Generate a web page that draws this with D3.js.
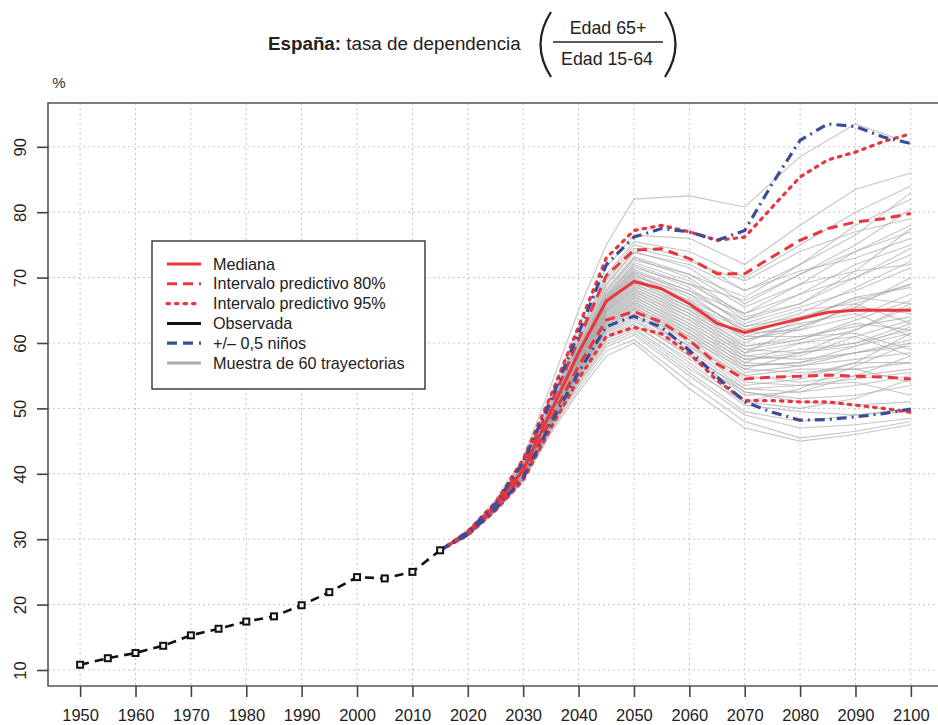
<!DOCTYPE html>
<html>
<head>
<meta charset="utf-8">
<script src="https://cdn.jsdelivr.net/npm/d3@7"></script>
<style>
  body { margin: 0; background: #fff; }
  svg { display: block; font-family: "Liberation Sans", Arial, sans-serif; }
</style>
</head>
<body>
<div id="chart"></div>
<script>
// Observed values (1950-2015)
const obsYears = [1950, 1955, 1960, 1965, 1970, 1975, 1980, 1985, 1990, 1995, 2000, 2005, 2010, 2015];
const obsValues = [10.8, 11.8, 12.6, 13.7, 15.3, 16.3, 17.4, 18.2, 19.9, 21.9, 24.2, 24.0, 25.0, 28.3];

// Projections (2015-2100)
const projYears = [2015, 2020, 2025, 2030, 2035, 2040, 2045, 2050, 2055, 2060, 2065, 2070, 2075, 2080, 2085, 2090, 2095, 2100];
const median     = [28.3, 30.9, 35.0, 40.6, 49.5, 58.5, 66.4, 69.4, 68.3, 66.0, 63.0, 61.6, 62.7, 63.7, 64.7, 65.0, 65.0, 65.0];
const pi80Upper  = [28.3, 31.0, 35.3, 41.4, 50.7, 60.5, 70.3, 74.2, 74.4, 72.9, 70.6, 70.6, 73.2, 75.7, 77.5, 78.5, 79.0, 79.8];
const pi80Lower  = [28.3, 30.8, 34.7, 39.8, 48.3, 56.5, 63.5, 64.8, 63.2, 60.4, 56.8, 54.5, 54.8, 54.9, 55.1, 54.9, 54.8, 54.5];
const pi95Upper  = [28.3, 31.2, 35.6, 42.2, 52.0, 62.5, 73.0, 77.2, 78.0, 77.0, 75.7, 76.2, 80.8, 85.4, 88.0, 89.2, 90.8, 92.0];
const pi95Lower  = [28.3, 30.6, 34.4, 39.0, 47.0, 54.5, 61.0, 62.4, 61.4, 58.4, 54.3, 51.2, 51.2, 51.0, 51.0, 50.5, 50.0, 49.4];
const halfUpper  = [28.3, 31.1, 35.4, 41.8, 51.3, 61.5, 72.0, 76.2, 77.5, 77.0, 75.7, 77.2, 84.4, 91.0, 93.5, 93.1, 91.5, 90.5];
const halfLower  = [28.3, 30.7, 34.6, 39.4, 47.7, 55.5, 62.5, 64.1, 62.4, 58.9, 54.8, 51.0, 49.4, 48.2, 48.3, 48.7, 49.2, 49.9];

// Muestra de 60 trayectorias
const sampleYears = [2015, 2020, 2025, 2030, 2035, 2040, 2045, 2050, 2060, 2070, 2080, 2090, 2100];
const sampleTrajectories = [
  [28.3, 31.4, 36.0, 42.5, 53.5, 65.0, 75.0, 82.0, 82.5, 80.8, 88.5, 93.5, 90.5],
  [28.3, 31.2, 35.6, 42.0, 52.0, 62.5, 71.5, 76.5, 76.0, 72.0, 78.0, 83.5, 86.0],
  [28.3, 31.2, 35.5, 41.8, 51.5, 61.5, 70.5, 75.5, 74.0, 70.0, 75.0, 80.0, 84.0],
  [28.3, 31.1, 35.4, 41.5, 51.0, 61.0, 70.0, 75.0, 73.0, 68.0, 72.0, 78.0, 82.0],
  [28.3, 31.1, 35.4, 41.4, 50.8, 60.5, 69.5, 74.5, 72.5, 69.5, 74.0, 77.0, 79.0],
  [28.3, 31.1, 35.3, 41.3, 50.5, 60.2, 69.0, 74.0, 71.5, 66.0, 70.5, 75.0, 80.5],
  [28.3, 31.1, 35.3, 41.2, 50.3, 60.0, 68.8, 73.8, 72.0, 68.0, 71.0, 73.0, 76.0],
  [28.3, 31.0, 35.2, 41.1, 50.1, 59.7, 68.3, 73.2, 70.5, 65.5, 69.0, 74.0, 78.0],
  [28.3, 31.0, 35.2, 41.0, 50.0, 59.5, 68.0, 73.0, 70.0, 64.0, 66.0, 70.0, 73.5],
  [28.3, 31.0, 35.2, 41.0, 49.9, 59.3, 67.8, 72.7, 70.5, 67.0, 72.0, 76.5, 83.0],
  [28.3, 31.0, 35.1, 40.9, 49.8, 59.1, 67.5, 72.3, 69.5, 63.5, 67.5, 72.0, 75.0],
  [28.3, 31.0, 35.1, 40.9, 49.7, 59.0, 67.3, 72.0, 69.0, 64.5, 69.0, 71.0, 72.0],
  [28.3, 31.0, 35.1, 40.8, 49.7, 58.9, 67.1, 71.8, 68.5, 62.5, 64.0, 66.5, 69.0],
  [28.3, 31.0, 35.1, 40.8, 49.6, 58.8, 67.0, 71.5, 69.0, 66.5, 70.5, 74.0, 77.0],
  [28.3, 31.0, 35.0, 40.8, 49.6, 58.7, 66.8, 71.2, 68.0, 63.0, 65.5, 68.0, 71.5],
  [28.3, 30.9, 35.0, 40.7, 49.5, 58.6, 66.7, 71.0, 67.5, 61.5, 62.0, 64.0, 67.5],
  [28.3, 30.9, 35.0, 40.7, 49.5, 58.5, 66.6, 70.8, 68.0, 64.5, 67.5, 70.0, 74.5],
  [28.3, 30.9, 35.0, 40.7, 49.4, 58.5, 66.5, 70.6, 67.0, 62.0, 63.5, 67.0, 66.0],
  [28.3, 30.9, 35.0, 40.6, 49.4, 58.4, 66.4, 70.4, 66.5, 60.5, 62.5, 65.5, 70.0],
  [28.3, 30.9, 35.0, 40.6, 49.3, 58.3, 66.3, 70.2, 67.5, 63.5, 66.0, 71.0, 77.5],
  [28.3, 30.9, 34.9, 40.6, 49.3, 58.2, 66.2, 70.0, 66.0, 61.0, 61.0, 62.5, 64.0],
  [28.3, 30.9, 34.9, 40.5, 49.2, 58.1, 66.0, 69.8, 66.5, 62.5, 65.0, 66.0, 63.0],
  [28.3, 30.9, 34.9, 40.5, 49.2, 58.0, 65.9, 69.6, 65.5, 59.5, 60.5, 63.5, 66.5],
  [28.3, 30.9, 34.9, 40.5, 49.1, 57.9, 65.8, 69.4, 66.0, 62.0, 64.5, 68.5, 72.5],
  [28.3, 30.9, 34.9, 40.4, 49.1, 57.8, 65.6, 69.2, 65.0, 59.0, 58.5, 60.0, 62.0],
  [28.3, 30.9, 34.9, 40.4, 49.0, 57.7, 65.5, 69.0, 65.5, 61.0, 63.0, 64.5, 61.0],
  [28.3, 30.9, 34.9, 40.4, 49.0, 57.6, 65.3, 68.8, 64.5, 58.5, 60.0, 62.0, 65.5],
  [28.3, 30.8, 34.8, 40.3, 48.9, 57.5, 65.2, 68.6, 65.0, 60.5, 62.0, 66.0, 69.0],
  [28.3, 30.8, 34.8, 40.3, 48.9, 57.4, 65.0, 68.4, 64.0, 58.0, 57.5, 58.5, 60.5],
  [28.3, 30.8, 34.8, 40.3, 48.8, 57.3, 64.9, 68.2, 64.5, 60.0, 63.5, 67.0, 68.5],
  [28.3, 30.8, 34.8, 40.2, 48.8, 57.2, 64.8, 68.0, 63.5, 57.5, 58.0, 61.0, 63.5],
  [28.3, 30.8, 34.8, 40.2, 48.7, 57.1, 64.6, 67.8, 64.0, 59.5, 61.0, 61.5, 59.0],
  [28.3, 30.8, 34.8, 40.2, 48.7, 57.0, 64.5, 67.6, 63.0, 57.0, 56.5, 57.5, 58.5],
  [28.3, 30.8, 34.8, 40.1, 48.6, 56.9, 64.3, 67.4, 63.5, 59.0, 60.5, 63.0, 62.0],
  [28.3, 30.8, 34.7, 40.1, 48.6, 56.8, 64.2, 67.2, 62.5, 56.5, 57.0, 59.5, 61.5],
  [28.3, 30.8, 34.7, 40.1, 48.5, 56.7, 64.0, 67.0, 63.0, 58.5, 62.5, 65.5, 64.5],
  [28.3, 30.8, 34.7, 40.0, 48.5, 56.6, 63.9, 66.8, 62.0, 56.0, 55.5, 56.0, 57.0],
  [28.3, 30.8, 34.7, 40.0, 48.4, 56.5, 63.7, 66.6, 62.5, 58.0, 59.0, 60.0, 63.0],
  [28.3, 30.8, 34.7, 40.0, 48.4, 56.4, 63.6, 66.4, 61.5, 55.5, 56.5, 58.5, 60.0],
  [28.3, 30.8, 34.7, 39.9, 48.3, 56.3, 63.4, 66.2, 62.0, 57.5, 58.5, 62.0, 66.0],
  [28.3, 30.7, 34.7, 39.9, 48.3, 56.2, 63.3, 66.0, 61.0, 55.0, 54.0, 55.0, 56.0],
  [28.3, 30.7, 34.6, 39.9, 48.2, 56.1, 63.1, 65.8, 61.5, 57.0, 60.0, 61.0, 58.0],
  [28.3, 30.7, 34.6, 39.8, 48.2, 56.0, 63.0, 65.6, 60.5, 54.5, 55.0, 57.0, 61.5],
  [28.3, 30.7, 34.6, 39.8, 48.1, 55.9, 62.8, 65.4, 61.0, 56.5, 57.0, 58.5, 59.5],
  [28.3, 30.7, 34.6, 39.8, 48.1, 55.8, 62.7, 65.2, 60.0, 54.0, 53.5, 54.5, 55.5],
  [28.3, 30.7, 34.6, 39.7, 48.0, 55.7, 62.5, 65.0, 60.5, 56.0, 58.5, 59.5, 62.5],
  [28.3, 30.7, 34.6, 39.7, 48.0, 55.6, 62.4, 64.8, 59.5, 53.5, 54.5, 57.0, 57.0],
  [28.3, 30.7, 34.6, 39.7, 47.9, 55.5, 62.2, 64.5, 59.0, 53.0, 52.5, 53.5, 55.0],
  [28.3, 30.7, 34.5, 39.6, 47.9, 55.4, 62.1, 64.3, 59.5, 55.0, 56.0, 56.0, 54.0],
  [28.3, 30.7, 34.5, 39.6, 47.8, 55.3, 61.9, 64.0, 58.5, 52.5, 51.5, 52.0, 53.5],
  [28.3, 30.7, 34.5, 39.6, 47.7, 55.1, 61.7, 63.7, 58.0, 52.0, 52.5, 55.0, 58.0],
  [28.3, 30.7, 34.5, 39.5, 47.6, 55.0, 61.5, 63.4, 58.0, 53.0, 53.5, 54.0, 52.0],
  [28.3, 30.7, 34.5, 39.5, 47.5, 54.8, 61.2, 63.0, 57.0, 51.0, 50.0, 51.5, 54.5],
  [28.3, 30.6, 34.4, 39.4, 47.4, 54.6, 60.9, 62.7, 57.5, 52.5, 51.0, 50.5, 51.0],
  [28.3, 30.6, 34.4, 39.4, 47.3, 54.4, 60.6, 62.3, 56.5, 50.5, 49.5, 49.0, 50.0],
  [28.3, 30.6, 34.4, 39.3, 47.1, 54.1, 60.2, 62.0, 56.0, 51.0, 53.0, 56.5, 60.0],
  [28.3, 30.6, 34.4, 39.2, 47.0, 53.8, 59.8, 61.6, 55.5, 49.5, 48.0, 49.0, 49.5],
  [28.3, 30.6, 34.3, 39.1, 46.8, 53.5, 59.4, 61.2, 55.0, 49.0, 47.0, 47.5, 48.5],
  [28.3, 30.6, 34.3, 39.0, 46.5, 53.0, 58.8, 60.5, 54.0, 48.0, 45.5, 46.5, 48.0],
  [28.3, 30.5, 34.2, 38.9, 46.2, 52.5, 58.0, 60.0, 53.0, 47.0, 45.0, 46.0, 47.5]
];

// Axis ticks
const xTicks = [1950, 1960, 1970, 1980, 1990, 2000, 2010, 2020, 2030, 2040, 2050, 2060, 2070, 2080, 2090, 2100];
const yTicks = [10, 20, 30, 40, 50, 60, 70, 80, 90];

// Legend
const legendLabels = ["Mediana", "Intervalo predictivo 80%", "Intervalo predictivo 95%", "Observada", "+/\u2013 0,5 niños", "Muestra de 60 trayectorias"];

const W = 938, H = 725;
const RED = "#e8363c", BLUE = "#3c4c9c", GRAY = "#a8a8a8";
const plot = { left: 48, right: 938, top: 103, bottom: 686 };

const svg = d3.select("#chart").append("svg").attr("width", W).attr("height", H);

const x = d3.scaleLinear().domain([1944.2, 2104.9]).range([plot.left, plot.right]);
const y = d3.scaleLinear().domain([7.55, 96.7]).range([plot.bottom, plot.top]);

svg.append("clipPath").attr("id", "clip")
  .append("rect").attr("x", plot.left).attr("y", plot.top)
  .attr("width", plot.right - plot.left).attr("height", plot.bottom - plot.top);

// --- Grille ---
const grid = svg.append("g");
grid.selectAll(".gx").data(xTicks).enter().append("line")
  .attr("x1", d => x(d)).attr("x2", d => x(d))
  .attr("y1", plot.top).attr("y2", plot.bottom)
  .attr("stroke", "#c4c4c4").attr("stroke-width", 1).attr("stroke-dasharray", "2,3");
grid.selectAll(".gy").data(yTicks).enter().append("line")
  .attr("x1", plot.left).attr("x2", plot.right)
  .attr("y1", d => y(d)).attr("y2", d => y(d))
  .attr("stroke", "#c4c4c4").attr("stroke-width", 1).attr("stroke-dasharray", "2,3");

const g = svg.append("g").attr("clip-path", "url(#clip)");

// --- Trayectorias ---
const sampleLine = d3.line().x((d, i) => x(sampleYears[i])).y(d => y(d));
g.selectAll(".traj").data(sampleTrajectories).enter().append("path")
  .attr("d", sampleLine).attr("fill", "none")
  .attr("stroke", GRAY).attr("stroke-width", 1.1).attr("stroke-opacity", 0.65);

// --- Projection lines ---
const projLine = d3.line().x((d, i) => x(projYears[i])).y(d => y(d));
const series = [
  { values: pi95Upper, color: RED, dash: "2.5,6", width: 3.2, cap: "round" },
  { values: pi95Lower, color: RED, dash: "2.5,6", width: 3.2, cap: "round" },
  { values: pi80Upper, color: RED, dash: "10,6", width: 3, cap: "butt" },
  { values: pi80Lower, color: RED, dash: "10,6", width: 3, cap: "butt" },
  { values: median, color: RED, dash: null, width: 3, cap: "butt" },
  { values: halfUpper, color: BLUE, dash: "10,5,2,5", width: 3.2, cap: "butt" },
  { values: halfLower, color: BLUE, dash: "10,5,2,5", width: 3.2, cap: "butt" }
];
series.forEach(s => {
  g.append("path").datum(s.values).attr("d", projLine)
    .attr("fill", "none").attr("stroke", s.color).attr("stroke-width", s.width)
    .attr("stroke-dasharray", s.dash).attr("stroke-linecap", s.cap)
    .attr("stroke-linejoin", "round");
});

// --- Observada ---
const obsLine = d3.line().x((d, i) => x(obsYears[i])).y(d => y(d));
g.append("path").datum(obsValues).attr("d", obsLine)
  .attr("fill", "none").attr("stroke", "#111").attr("stroke-width", 2.6)
  .attr("stroke-dasharray", "9,6");
g.selectAll(".obs").data(obsValues).enter().append("rect")
  .attr("x", (d, i) => x(obsYears[i]) - 3).attr("y", d => y(d) - 3)
  .attr("width", 6).attr("height", 6)
  .attr("fill", "#f4f4f4").attr("stroke", "#111").attr("stroke-width", 2);

// --- Cadre ---
svg.append("path")
  .attr("d", `M${plot.right + 2},${plot.top} H${plot.left} V${plot.bottom} H${plot.right + 2}`)
  .attr("fill", "none").attr("stroke", "#555").attr("stroke-width", 1.6);

// --- Axes ---
const xAxis = svg.append("g").attr("transform", `translate(0,${plot.bottom})`)
  .call(d3.axisBottom(x).tickValues(xTicks).tickFormat(d3.format("d")).tickSize(11).tickPadding(12));
xAxis.select(".domain").remove();
xAxis.selectAll("line").attr("stroke", "#444").attr("stroke-width", 1.6);
xAxis.selectAll("text").attr("font-size", 16.5).attr("fill", "#1e1e1e").attr("font-family", "Liberation Sans, Arial, sans-serif");

const yAxis = svg.append("g").attr("transform", `translate(${plot.left},0)`)
  .call(d3.axisLeft(y).tickValues(yTicks).tickSize(11));
yAxis.select(".domain").remove();
yAxis.selectAll("line").attr("stroke", "#444").attr("stroke-width", 1.6);
yAxis.selectAll("text")
  .attr("x", 0).attr("y", 0).attr("dy", "0.35em")
  .attr("text-anchor", "middle")
  .attr("transform", "translate(-28,0) rotate(-90)")
  .attr("font-size", 16.5).attr("fill", "#1e1e1e").attr("font-family", "Liberation Sans, Arial, sans-serif");

svg.append("text").attr("x", 59).attr("y", 88).attr("text-anchor", "middle")
  .attr("font-size", 15).attr("fill", "#333").text("%");

// --- Titre ---
const title = svg.append("text").attr("x", 268).attr("y", 49.5).attr("font-size", 18.8).attr("fill", "#222");
title.append("tspan").attr("font-weight", "bold").text("España:");
title.append("tspan").text(" tasa de dependencia");
svg.append("path").attr("d", "M551,12 Q530,44.5 551,77").attr("fill", "none").attr("stroke", "#222").attr("stroke-width", 2.2);
svg.append("path").attr("d", "M665,12 Q686,44.5 665,77").attr("fill", "none").attr("stroke", "#222").attr("stroke-width", 2.2);
svg.append("text").attr("x", 608).attr("y", 33.5).attr("text-anchor", "middle").attr("font-size", 17.8).attr("fill", "#222").text("Edad 65+");
svg.append("line").attr("x1", 553).attr("x2", 663).attr("y1", 42).attr("y2", 42).attr("stroke", "#222").attr("stroke-width", 1.4);
svg.append("text").attr("x", 607).attr("y", 65).attr("text-anchor", "middle").attr("font-size", 17.8).attr("fill", "#222").text("Edad 15-64");

// --- Leyenda ---
const legend = svg.append("g");
legend.append("rect").attr("x", 152).attr("y", 241).attr("width", 273).attr("height", 148)
  .attr("fill", "#fff").attr("stroke", "#222").attr("stroke-width", 1.3);
const legendStyles = [
  { color: RED, dash: null, width: 3, cap: "butt" },
  { color: RED, dash: "10,6", width: 3, cap: "butt" },
  { color: RED, dash: "2.5,6", width: 3.2, cap: "round" },
  { color: "#111", dash: null, width: 3, cap: "butt" },
  { color: BLUE, dash: "10,6", width: 3.2, cap: "butt" },
  { color: "#aaa", dash: null, width: 3, cap: "butt" }
];
legendLabels.forEach((label, i) => {
  const ly = 264 + i * 19.8;
  const st = legendStyles[i];
  legend.append("line").attr("x1", 167).attr("x2", 201).attr("y1", ly).attr("y2", ly)
    .attr("stroke", st.color).attr("stroke-width", st.width)
    .attr("stroke-dasharray", st.dash).attr("stroke-linecap", st.cap);
  legend.append("text").attr("x", 213).attr("y", ly).attr("dy", "0.35em")
    .attr("font-size", 16.2).attr("fill", "#222").text(label);
});
</script>
</body>
</html>
